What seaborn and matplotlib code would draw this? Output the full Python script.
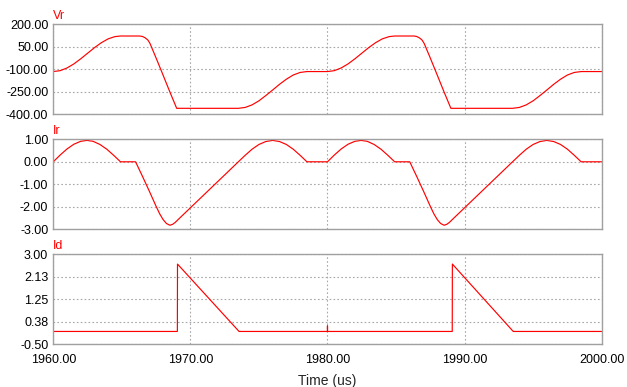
import matplotlib
matplotlib.use("Agg")
import matplotlib.pyplot as plt
import seaborn as sns
import pandas as pd

# ------------------------------------------------------------------
# data (time in us)
# ------------------------------------------------------------------

vr_time = [1960.0, 1960.5, 1961.0, 1961.5, 1962.0, 1962.5, 1963.0, 1963.5, 1964.0, 1964.5, 1964.9,
           1966.3, 1966.5, 1966.7, 1966.9, 1967.05, 1967.5, 1968.0, 1968.5, 1969.0,
           1973.5, 1974.0, 1974.5, 1975.0, 1975.5, 1976.0, 1976.5, 1977.0, 1977.5, 1978.0, 1978.5,
           1980.0, 1980.5, 1981.0, 1981.5, 1982.0, 1982.5, 1983.0, 1983.5, 1984.0, 1984.5, 1984.9,
           1986.3, 1986.5, 1986.7, 1986.9, 1987.05, 1987.5, 1988.0, 1988.5, 1989.0,
           1993.5, 1994.0, 1994.5, 1995.0, 1995.5, 1996.0, 1996.5, 1997.0, 1997.5, 1998.0, 1998.5,
           2000.0]
vr_vals = [-115, -109, -91, -64, -30, 7, 44, 77, 103, 118, 122,
           122, 119, 110, 95, 73, -25, -137, -250, -360,
           -360, -354, -337, -310, -275, -238, -200, -166, -138, -121, -115,
           -115, -109, -91, -64, -30, 7, 44, 77, 103, 118, 122,
           122, 119, 110, 95, 73, -25, -137, -250, -360,
           -360, -354, -337, -310, -275, -238, -200, -166, -138, -121, -115,
           -115]

ir_time = [1960.0, 1960.5, 1961.0, 1961.5, 1962.0, 1962.45, 1962.9, 1963.4, 1963.9, 1964.4, 1964.9,
           1966.0, 1966.25, 1966.5, 1966.75, 1967.0, 1967.25, 1967.5, 1967.75, 1968.0, 1968.25,
           1968.5, 1968.7, 1968.9, 1969.1,
           1973.5, 1974.0, 1974.5, 1975.0, 1975.5, 1976.0, 1976.5, 1977.0, 1977.5, 1978.0, 1978.5,
           1980.0, 1980.5, 1981.0, 1981.5, 1982.0, 1982.45, 1982.9, 1983.4, 1983.9, 1984.4, 1984.9,
           1986.0, 1986.25, 1986.5, 1986.75, 1987.0, 1987.25, 1987.5, 1987.75, 1988.0, 1988.25,
           1988.5, 1988.7, 1988.9, 1989.1,
           1993.5, 1994.0, 1994.5, 1995.0, 1995.5, 1996.0, 1996.5, 1997.0, 1997.5, 1998.0, 1998.5,
           2000.0]
ir_vals = [0, 0.30, 0.57, 0.78, 0.91, 0.95, 0.91, 0.77, 0.56, 0.29, 0,
           0, -0.32, -0.64, -0.97, -1.30, -1.64, -1.98, -2.30, -2.56, -2.74,
           -2.82, -2.78, -2.69, -2.57,
           0, 0.29, 0.56, 0.77, 0.90, 0.95, 0.90, 0.77, 0.56, 0.29, 0,
           0, 0.30, 0.57, 0.78, 0.91, 0.95, 0.91, 0.77, 0.56, 0.29, 0,
           0, -0.32, -0.64, -0.97, -1.30, -1.64, -1.98, -2.30, -2.56, -2.74,
           -2.82, -2.78, -2.69, -2.57,
           0, 0.29, 0.56, 0.77, 0.90, 0.95, 0.90, 0.77, 0.56, 0.29, 0,
           0]

id_time = [1960.0, 1969.05, 1969.06, 1973.55, 1979.99, 1980.0, 1980.01,
           1989.1, 1989.11, 1993.55, 2000.0]
id_vals = [0, 0, 2.62, 0, 0, 0.22, 0, 0, 2.62, 0, 0]

x_ticks = [1960, 1970, 1980, 1990, 2000]
x_labels = ["1960.00", "1970.00", "1980.00", "1990.00", "2000.00"]

vr_ticks = [200, 50, -100, -250, -400]
vr_labels = ["200.00", "50.00", "-100.00", "-250.00", "-400.00"]
ir_ticks = [1, 0, -1, -2, -3]
ir_labels = ["1.00", "0.00", "-1.00", "-2.00", "-3.00"]
id_ticks = [3.0, 2.125, 1.25, 0.375, -0.5]
id_labels = ["3.00", "2.13", "1.25", "0.38", "-0.50"]

# ------------------------------------------------------------------
# figure
# ------------------------------------------------------------------

sns.set_style("white")
plt.rcParams["font.family"] = ["Liberation Sans Narrow", "Liberation Sans", "DejaVu Sans"]

fig = plt.figure(figsize=(6.27, 3.87), dpi=100)

panels = [
    ("Vr", vr_time, vr_vals, vr_ticks, vr_labels, 0.7046),
    ("Ir", ir_time, ir_vals, ir_ticks, ir_labels, 0.4075),
    ("Id", id_time, id_vals, id_ticks, id_labels, 0.1103),
]

for i, (name, t, v, yt, yl, bottom) in enumerate(panels):
    ax = fig.add_axes([0.085, bottom, 0.8746, 0.2326])
    df = pd.DataFrame({"time": t, "value": v})
    sns.lineplot(data=df, x="time", y="value", ax=ax, color="#ff0000",
                 linewidth=0.85, estimator=None, sort=False)

    ax.set_xlim(1960, 2000)
    ax.set_ylim(min(yt), max(yt))
    ax.set_yticks(yt)
    ax.set_yticklabels(yl)
    ax.set_xticks(x_ticks)
    ax.set_xlabel("")
    ax.set_ylabel("")

    ax.grid(True, color="#a8a8a8", linestyle=(0, (1.5, 2)), linewidth=0.8)
    for s in ax.spines.values():
        s.set_color("#a0a0a0")
        s.set_linewidth(1.0)

    ax.tick_params(axis="y", length=0, labelsize=9, pad=3.6, colors="black")
    ax.tick_params(axis="x", length=0, labelsize=9, pad=7.0, colors="black")

    if i < 2:
        ax.set_xticklabels([])
    else:
        ax.set_xticklabels(x_labels)
        ax.set_xlabel("Time (us)", fontsize=10, labelpad=6)

    ax.annotate(name, xy=(0, 1), xycoords="axes fraction", xytext=(0, 3.5),
                textcoords="offset points", color="#ff0000", fontsize=9,
                ha="left", va="baseline")

fig.savefig("out.png", dpi=100)
